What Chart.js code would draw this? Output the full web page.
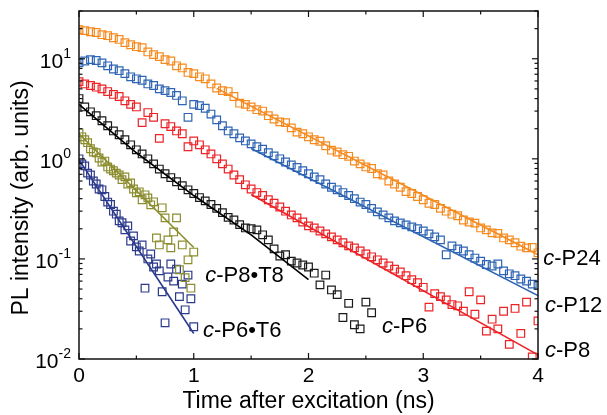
<!DOCTYPE html>
<html>
<head>
<meta charset="utf-8">
<title>PL decay</title>
<script src="https://cdn.jsdelivr.net/npm/chart.js@4.4.1/dist/chart.umd.min.js"></script>
<style>
  html, body { margin: 0; padding: 0; background: #fff; }
  #wrap { width: 607px; height: 415px; position: relative; }
</style>
</head>
<body>
<div id="wrap"><canvas id="plChart"></canvas></div>
<script>
// ===== DATA =====
const timeNs = [
  0.00, 0.05, 0.10, 0.15, 0.20, 0.25, 0.30, 0.35, 0.40, 0.45,
  0.50, 0.55, 0.60, 0.65, 0.70, 0.75, 0.80, 0.85, 0.90, 0.95,
  1.00, 1.05, 1.10, 1.15, 1.20, 1.25, 1.30, 1.35, 1.40, 1.45,
  1.50, 1.55, 1.60, 1.65, 1.70, 1.75, 1.80, 1.85, 1.90, 1.95,
  2.00, 2.05, 2.10, 2.15, 2.20, 2.25, 2.30, 2.35, 2.40, 2.45,
  2.50, 2.55, 2.60, 2.65, 2.70, 2.75, 2.80, 2.85, 2.90, 2.95,
  3.00, 3.05, 3.10, 3.15, 3.20, 3.25, 3.30, 3.35, 3.40, 3.45,
  3.50, 3.55, 3.60, 3.65, 3.70, 3.75, 3.80, 3.85, 3.90, 3.95,
  4.00
];
const timeFineNs = [
  0.000, 0.025, 0.050, 0.075, 0.100, 0.125, 0.150, 0.175, 0.200, 0.225,
  0.250, 0.275, 0.300, 0.325, 0.350, 0.375, 0.400, 0.425, 0.450, 0.475,
  0.500, 0.525, 0.550, 0.575, 0.600, 0.625, 0.650, 0.675, 0.700, 0.725,
  0.750, 0.775, 0.800, 0.825, 0.850, 0.875, 0.900, 0.925, 0.950, 0.975,
  1.000
];

const cP24 = [
  19.5, 19.1, 18.6, 18.3, 17.4, 17.0, 16.2, 15.6, 14.5, 13.8,
  13.2, 12.9, 11.7, 11.0, 10.5, 9.8, 9.5, 8.5, 8.1, 7.3,
  7.1, 6.6, 6.3, 5.6, 5.1, 4.8, 4.7, 4.2, 3.6, 3.5,
  3.3, 3.1, 3.0, 2.7, 2.5, 2.34, 2.3, 2.04, 1.85, 1.78,
  1.66, 1.55, 1.5, 1.35, 1.22, 1.17, 1.10, 1.06, 0.95, 0.89,
  0.83, 0.80, 0.71, 0.69, 0.60, 0.56, 0.52, 0.47, 0.45, 0.42,
  0.39, 0.36, 0.35, 0.32, 0.30, 0.28, 0.27, 0.245, 0.234, 0.228,
  0.204, 0.195, 0.182, 0.18, 0.162, 0.155, 0.145, 0.134, 0.129, 0.13,
  0.115
];
const cP12 = [
  9.1, 9.5, 9.8, 9.6, 9.1, 8.5, 7.9, 7.6, 7.1, 6.6,
  6.3, 6.1, 5.6, 5.4, 5.0, 4.8, 4.6, 4.3, 3.8, 2.6,
  3.5, 3.4, 3.2, 2.8, 2.45, 2.14, 1.9, 1.78, 1.62, 1.51,
  1.41, 1.32, 1.25, 1.15, 1.07, 1.0, 0.93, 0.87, 0.82, 0.76,
  0.71, 0.66, 0.62, 0.56, 0.52, 0.49, 0.46, 0.43, 0.40, 0.37,
  0.35, 0.32, 0.295, 0.275, 0.257, 0.24, 0.229, 0.219, 0.209, 0.2,
  0.19, 0.178, 0.166, 0.155, 0.11, 0.135, 0.126, 0.12, 0.11, 0.102,
  0.095, 0.088, 0.085, 0.089, 0.076, 0.071, 0.068, 0.063, 0.060, 0.056,
  0.054
];
const cP8 = [
  5.9, 5.6, 5.4, 5.2, 5.0, 4.7, 4.4, 4.2, 3.8, 3.5,
  3.3, 2.3, 2.9, 2.6, 1.6, 2.24, 2.1, 1.9, 1.78, 1.32,
  1.51, 1.38, 1.23, 1.12, 1.0, 0.89, 0.79, 0.69, 0.62, 0.55,
  0.50, 0.46, 0.43, 0.39, 0.36, 0.33, 0.30, 0.275, 0.257, 0.234,
  0.214, 0.204, 0.19, 0.178, 0.166, 0.155, 0.145, 0.135, 0.129, 0.12,
  0.112, 0.105, 0.098, 0.091, 0.085, 0.079, 0.074, 0.068, 0.062, 0.058,
  0.052, 0.033, 0.045, 0.042, 0.039, 0.035, 0.034, 0.030, 0.047, 0.028,
  0.039, 0.019, 0.025, 0.020, 0.030, 0.014, 0.032, 0.018, 0.037, 0.0105,
  0.024
];
const cP6 = [
  4.0, 3.3, 2.95, 2.7, 2.4, 2.14, 1.9, 1.74, 1.55, 1.38,
  1.23, 1.12, 1.0, 0.89, 0.79, 0.71, 0.65, 0.59, 0.54, 0.49,
  0.45, 0.41, 0.38, 0.35, 0.32, 0.29, 0.26, 0.245, 0.22, 0.204,
  0.20, 0.195, 0.174, 0.155, 0.126, 0.107, 0.11, 0.095, 0.091, 0.087,
  0.083, 0.072, 0.055, 0.069, 0.049, 0.044, 0.026, 0.036, 0.022, 0.020,
  0.037, 0.029
];
const cP8T8 = [
  1.82, 1.66, 1.55, 1.45, 1.26, 1.17, 1.15, 1.02, 0.93, 0.95,
  0.83, 0.79, 0.76, 0.72, 0.69, 0.62, 0.66, 0.56, 0.575, 0.50,
  0.457, 0.468, 0.39, 0.437, 0.407, 0.347, 0.372, 0.162, 0.138, 0.324,
  0.257, 0.155, 0.129, 0.186, 0.257, 0.078, 0.138, 0.065, 0.098, 0.051,
  0.117
];
const cP6T6 = [
  1.0, 0.89, 0.85, 0.72, 0.69, 0.60, 0.56, 0.50, 0.49, 0.42,
  0.37, 0.35, 0.30, 0.28, 0.24, 0.23, 0.195, 0.214, 0.151, 0.17,
  0.132, 0.12, 0.138, 0.051, 0.10, 0.112, 0.083, 0.089, 0.076, 0.047,
  0.023, 0.066, 0.089, 0.06, 0.079, 0.042, 0.056, 0.031, 0.069, 0.040,
  0.021
];

// fitted decay lines (end points)
const fitP24Time = [1.2, 4.0];   const fitP24 = [5.06, 0.11];
const fitP12Time = [1.5, 4.0];   const fitP12 = [1.27, 0.043];
const fitP8Time  = [1.5, 4.0];   const fitP8  = [0.44, 0.011];
const fitP6Time  = [0, 0.5, 1.0, 1.5, 2.0]; const fitP6 = [3.5, 1.15, 0.43, 0.174, 0.062];
const fitP8T8Time = [0, 1.0];    const fitP8T8 = [1.78, 0.13];
const fitP6T6Time = [0, 1.0];    const fitP6T6 = [0.98, 0.018];

// axis ticks
const xMajorTicks = [0, 1, 2, 3, 4];
const xMinorTicks = [0.5, 1.5, 2.5, 3.5];
const yDecades = [0.01, 0.1, 1, 10];
const yExponents = ['-2', '-1', '0', '1'];
const yMinorTicks = [
  0.02, 0.03, 0.04, 0.05, 0.06, 0.07, 0.08, 0.09,
  0.2, 0.3, 0.4, 0.5, 0.6, 0.7, 0.8, 0.9,
  2, 3, 4, 5, 6, 7, 8, 9, 20, 30
];

// ===== COLOURS =====
const C = {
  p24: '#f58a1f', p12: '#2e64b3', p8: '#ec2327',
  p6: '#1a1a1a', p8t8: '#8b8d2e', p6t6: '#2c3a8c'
};

// series labels: [name, time anchor, intensity anchor (baseline)]
const seriesLabels = [
  ['P24', 4.045, 0.087],
  ['P12', 4.06, 0.0295],
  ['P8', 4.06, 0.0105],
  ['P6', 2.64, 0.018],
  ['P8\u2022T8', 1.10, 0.059],
  ['P6\u2022T6', 1.08, 0.0166]
];

const FONT = "'Liberation Sans', Arial, Helvetica, sans-serif";
Chart.defaults.font.family = FONT;
Chart.defaults.color = '#000';

const pts = (ts, vs) => vs.map((v, i) => ({ x: ts[i], y: v }));

function markerSet(data, color) {
  return {
    type: 'scatter', data: data, order: 2,
    pointStyle: 'rect', pointRadius: 5.4, pointBorderWidth: 1.2,
    borderColor: color, backgroundColor: 'rgba(0,0,0,0)', showLine: false
  };
}
function fitSet(data, color) {
  return {
    type: 'line', data: data, order: 1,
    borderColor: color, borderWidth: 1.6, pointRadius: 0, fill: false, tension: 0
  };
}

// ===== FRAME, TICKS, LABELS =====
const framePlugin = {
  id: 'framePlugin',
  afterDatasetsDraw(chart) {
    const { ctx, chartArea: a, scales: { x, y } } = chart;
    ctx.save();
    ctx.strokeStyle = '#111';
    ctx.lineWidth = 1.2;
    const seg = (x1, y1, x2, y2) => { ctx.beginPath(); ctx.moveTo(x1, y1); ctx.lineTo(x2, y2); ctx.stroke(); };

    xMajorTicks.forEach(v => { const p = x.getPixelForValue(v); seg(p, a.bottom, p, a.bottom - 6); seg(p, a.top, p, a.top + 6); });
    xMinorTicks.forEach(v => { const p = x.getPixelForValue(v); seg(p, a.bottom, p, a.bottom - 3.5); seg(p, a.top, p, a.top + 3.5); });
    yDecades.forEach(v => { const p = y.getPixelForValue(v); seg(a.left, p, a.left + 6, p); seg(a.right, p, a.right - 6, p); });
    yMinorTicks.forEach(v => { const p = y.getPixelForValue(v); seg(a.left, p, a.left + 3.5, p); seg(a.right, p, a.right - 3.5, p); });

    ctx.lineWidth = 1.5;
    ctx.strokeRect(a.left, a.top, a.right - a.left, a.bottom - a.top);

    // y tick labels with superscript exponents
    ctx.fillStyle = '#000';
    ctx.textBaseline = 'alphabetic';
    yDecades.forEach((v, i) => {
      const p = y.getPixelForValue(v);
      ctx.font = '14px ' + FONT;
      const ew = ctx.measureText(yExponents[i]).width;
      const right = a.left - 8;
      ctx.textAlign = 'right';
      ctx.fillText(yExponents[i], right, p - 1);
      ctx.font = '21px ' + FONT;
      ctx.fillText('10', right - ew, p + 9);
    });

    // y axis title
    ctx.save();
    ctx.translate(22, (a.top + a.bottom) / 2 + 13);
    ctx.rotate(-Math.PI / 2);
    ctx.font = '23px ' + FONT;
    ctx.textAlign = 'center';
    ctx.textBaseline = 'middle';
    ctx.fillText('PL intensity (arb. units)', 0, 0);
    ctx.restore();

    // series labels, italic "c"
    ctx.textAlign = 'left';
    seriesLabels.forEach(([name, t, v]) => {
      const px = x.getPixelForValue(t), py = y.getPixelForValue(v);
      ctx.font = 'italic 22px ' + FONT;
      ctx.fillText('c', px, py);
      const cw = ctx.measureText('c').width;
      ctx.font = '22px ' + FONT;
      ctx.fillText('-' + name, px + cw, py);
    });
    ctx.restore();
  }
};

new Chart(document.getElementById('plChart'), {
  type: 'scatter',
  data: {
    datasets: [
      markerSet(pts(timeNs, cP24), C.p24),
      markerSet(pts(timeNs, cP12), C.p12),
      markerSet(pts(timeNs, cP8), C.p8),
      markerSet(pts(timeNs, cP6), C.p6),
      markerSet(pts(timeFineNs, cP8T8), C.p8t8),
      markerSet(pts(timeFineNs, cP6T6), C.p6t6),
      fitSet(pts(fitP24Time, fitP24), C.p24),
      fitSet(pts(fitP12Time, fitP12), C.p12),
      fitSet(pts(fitP8Time, fitP8), C.p8),
      fitSet(pts(fitP6Time, fitP6), '#000'),
      fitSet(pts(fitP8T8Time, fitP8T8), C.p8t8),
      fitSet(pts(fitP6T6Time, fitP6T6), C.p6t6)
    ]
  },
  options: {
    responsive: true, maintainAspectRatio: false,
    animation: false, events: [],
    layout: { padding: { left: 0, top: 11, right: 69, bottom: 0 } },
    plugins: { legend: { display: false }, tooltip: { enabled: false } },
    scales: {
      x: {
        type: 'linear', min: 0, max: 4,
        grid: { display: false, drawTicks: false }, border: { display: false },
        ticks: { stepSize: 1, font: { size: 21 }, padding: 5, color: '#000', autoSkip: false },
        title: { display: true, text: 'Time after excitation (ns)', font: { size: 23 }, padding: { top: 0, bottom: 0 }, color: '#000' },
        afterFit(s) { s.height = 56; }
      },
      y: {
        type: 'logarithmic', min: 0.01, max: 30,
        grid: { display: false, drawTicks: false }, border: { display: false },
        ticks: { display: false },
        afterFit(s) { s.width = 79; }
      }
    }
  },
  plugins: [framePlugin]
});
</script>
</body>
</html>
